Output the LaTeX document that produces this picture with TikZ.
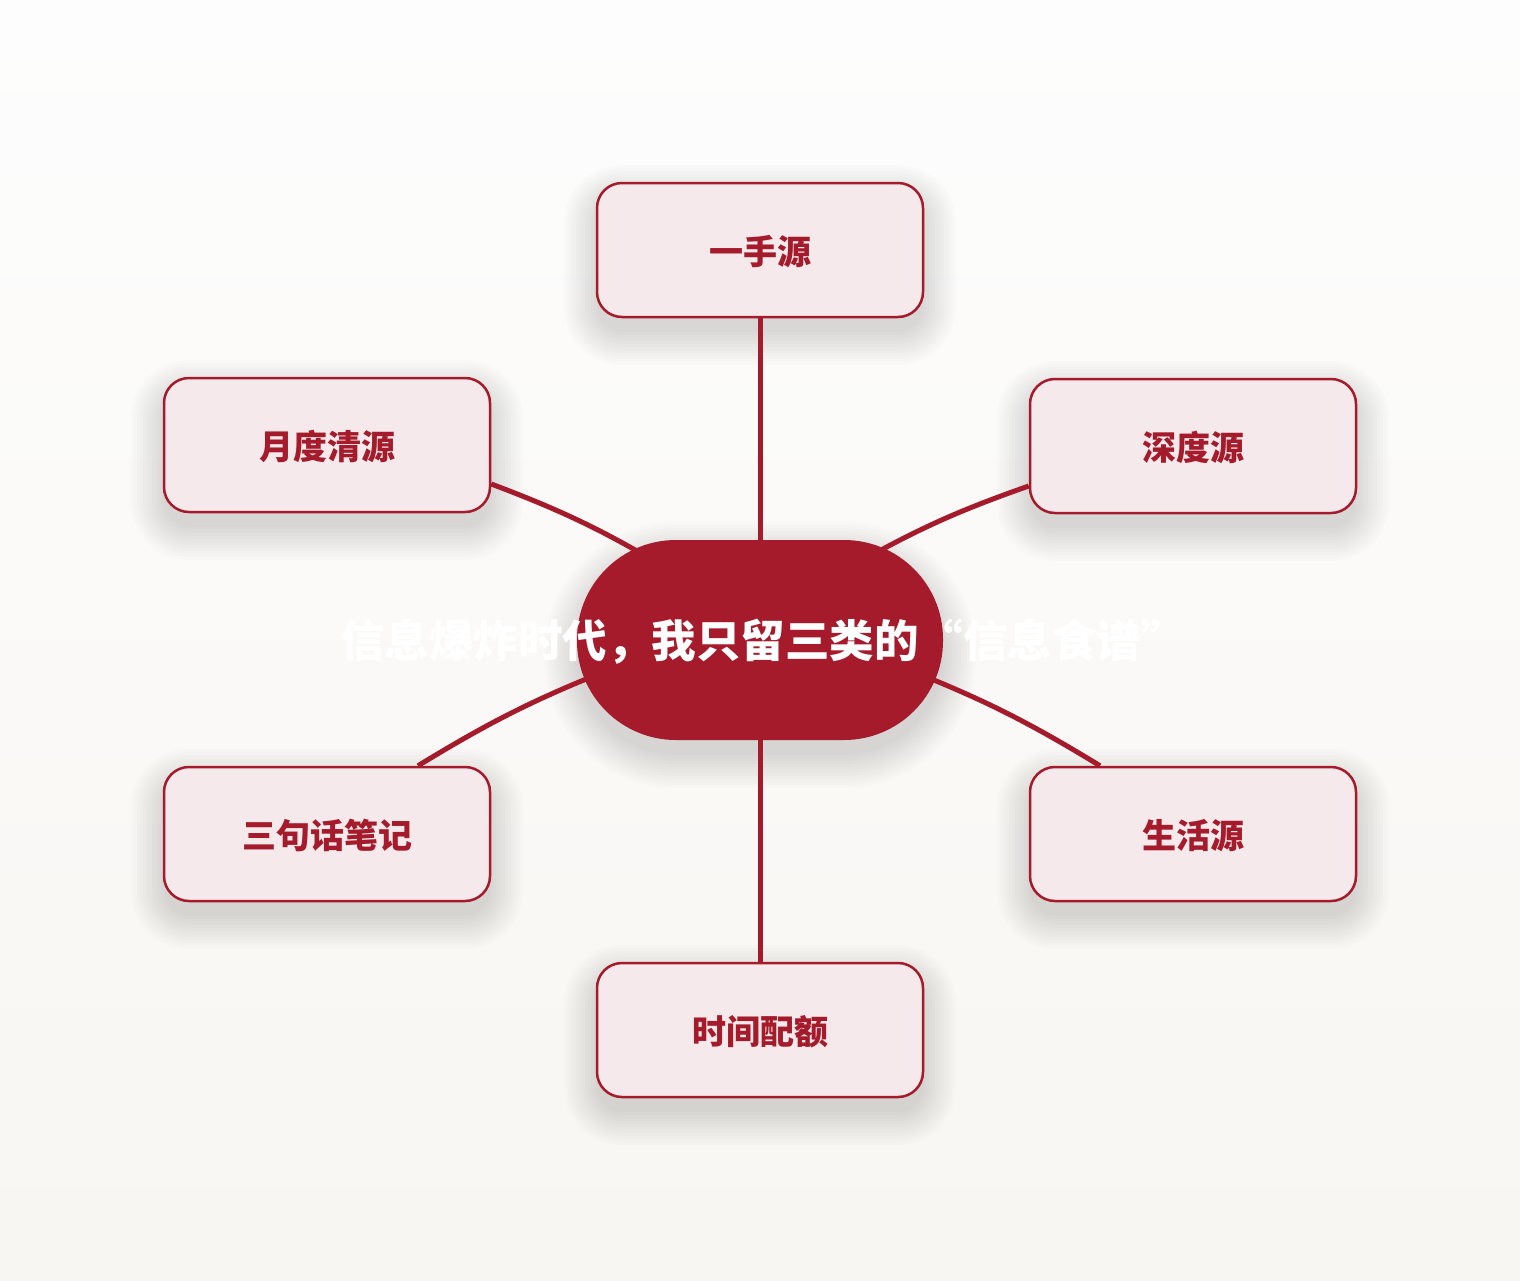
\documentclass[tikz,border=0pt]{standalone}
\usepackage{fontspec}
\newfontfamily\cjk{Noto Sans CJK SC}
\usetikzlibrary{calc}
\definecolor{brand}{HTML}{A51B2B}
\definecolor{boxfill}{HTML}{F5E9EB}
\definecolor{bgtop}{HTML}{FDFDFD}
\definecolor{bgbot}{HTML}{F8F6F2}
\pgfdeclarelayer{bgl}
\pgfdeclarelayer{shd}
\pgfdeclarelayer{lnk}
\pgfsetlayers{bgl,shd,lnk,main}
\begin{document}
\begin{tikzpicture}[x=1pt,y=-1pt,
  leaf/.style={draw=brand, line width=2.5pt, fill=boxfill, rounded corners=25pt,
    minimum width=326pt, minimum height=134pt, inner sep=0pt, text depth=0pt,
    font=\cjk\bfseries\fontsize{34}{40}\selectfont, text=brand},
  hub/.style={fill=brand, rounded corners=99pt, minimum width=366pt, minimum height=200pt,
    inner sep=0pt},
  hubtext/.style={font=\cjk\bfseries\fontsize{44.5}{50}\selectfont, text=white, inner sep=0pt},
  link/.style={draw=brand, line width=5pt},
  softshadow/.style={fill=black, opacity=0.012}]
\useasboundingbox (0,0) rectangle (1520,1280);
\begin{pgfonlayer}{bgl}
  \fill[top color=bgtop, bottom color=bgbot] (0,0) rectangle (1520,1280);
\end{pgfonlayer}

\node[hub] (c) at (760,640) {};
\node[leaf] (t)  at (760,250)  {一手源};
\node[leaf] (ul) at (327,445)  {月度清源};
\node[leaf] (ur) at (1193,446) {深度源};
\node[leaf] (ll) at (327,834)  {三句话笔记};
\node[leaf] (lr) at (1193,834) {生活源};
\node[leaf] (b)  at (760,1030) {时间配额};
\node[hubtext] (ct) at (763,642) {信息爆炸时代，我只留三类的“信息食谱”};

\begin{pgfonlayer}{shd}
  \foreach \n/\w/\h/\r in {t/163/67/25, ul/163/67/25, ur/163/67/25, ll/163/67/25, lr/163/67/25, b/163/67/25, c/183/100/99}{
    \foreach \s in {0,3,...,33}{
      \fill[softshadow, rounded corners=\r+\s]
        ($(\n.center)+(-\w-\s,-\h-\s+15)$) rectangle ($(\n.center)+(\w+\s,\h+\s+15)$);
    }
  }
\end{pgfonlayer}

\coordinate (ulA) at ($(ul.east)+(0,39)$);
\coordinate (ulB) at ($(c.center)+(-92,-71)$);
\coordinate (urA) at ($(ur.west)+(0,40)$);
\coordinate (urB) at ($(c.center)+(92,-74)$);
\coordinate (llA) at ($(ll.north)+(91,0)$);
\coordinate (llB) at ($(c.center)+(-139,25)$);
\coordinate (lrA) at ($(lr.north)+(-93,0)$);
\coordinate (lrB) at ($(c.center)+(139,26)$);

\begin{pgfonlayer}{lnk}
  \draw[link] (t.south) -- (c.center);
  \draw[link] (b.north) -- (c.center);
  \draw[link] (ulA) to[bend left=5] (ulB);
  \draw[link] (urA) to[bend right=5] (urB);
  \draw[link] (llA) to[bend left=5] (llB);
  \draw[link] (lrA) to[bend right=5] (lrB);
\end{pgfonlayer}
\end{tikzpicture}
\end{document}
